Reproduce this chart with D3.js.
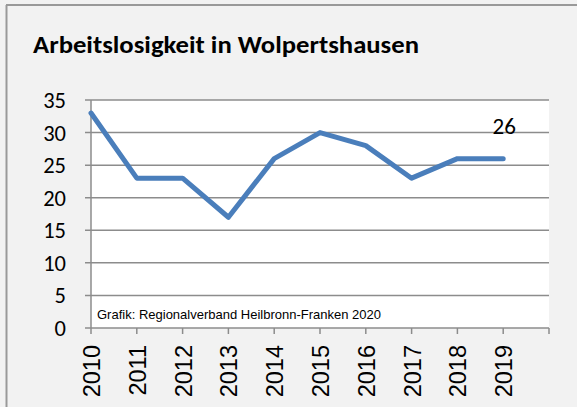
<!DOCTYPE html>
<html>
<head>
<meta charset="utf-8">
<script src="https://cdn.jsdelivr.net/npm/d3@7"></script>
<style>
  html, body { margin: 0; padding: 0; background: #f2f2f2; }
  svg { display: block; }
</style>
</head>
<body>
<svg id="chart" width="577" height="407"></svg>
<script>
// data
let years = ["2010", "2011", "2012", "2013", "2014", "2015", "2016", "2017", "2018", "2019"];
let values = [33, 23, 23, 17, 26, 30, 28, 23, 26, 26];
let yTicks = [0, 5, 10, 15, 20, 25, 30, 35];

let svg = d3.select("#chart");
let W = 577, H = 407;
let lineColor = "#4a7ebb";
let calibri = "Calibri, Carlito, Lato, 'Open Sans', sans-serif";
let arial = "Arial, 'Liberation Sans', sans-serif";

// background + frame (only top and left edges visible)
svg.append("rect").attr("width", W).attr("height", H).attr("fill", "#f2f2f2");
svg.append("line").attr("x1", 6.5).attr("x2", 6.5).attr("y1", 5).attr("y2", H)
    .attr("stroke", "#999").attr("stroke-width", 2);
svg.append("line").attr("x1", 6).attr("x2", W).attr("y1", 5).attr("y2", 5)
    .attr("stroke", "#999").attr("stroke-width", 2);

// title
svg.append("text")
    .attr("x", 33).attr("y", 53)
    .attr("font-family", calibri)
    .attr("font-weight", "bold")
    .attr("font-size", 25)
    .attr("textLength", 386)
    .attr("lengthAdjust", "spacingAndGlyphs")
    .attr("fill", "#000")
    .text("Arbeitslosigkeit in Wolpertshausen");

let plotLeft = 91, plotRight = 549, plotTop = 100, plotBottom = 328;

let x = d3.scaleLinear().domain([0, years.length]).range([plotLeft, plotRight]);
let y = d3.scaleLinear().domain([0, 35]).range([plotBottom, plotTop]);

// plot area
svg.append("rect")
    .attr("x", plotLeft).attr("y", plotTop)
    .attr("width", plotRight - plotLeft).attr("height", plotBottom - plotTop)
    .attr("fill", "#fff");

// gridlines
svg.append("g")
    .selectAll("line")
    .data(yTicks)
    .enter().append("line")
    .attr("x1", plotLeft - 6).attr("x2", plotRight)
    .attr("y1", function (d) { return y(d); })
    .attr("y2", function (d) { return y(d); })
    .attr("stroke", "#8c8c8c")
    .attr("stroke-width", 1.5);

// y axis line
svg.append("line")
    .attr("x1", plotLeft).attr("x2", plotLeft)
    .attr("y1", plotTop).attr("y2", plotBottom)
    .attr("stroke", "#8c8c8c").attr("stroke-width", 1.5);

// y labels
svg.append("g")
    .selectAll("text")
    .data(yTicks)
    .enter().append("text")
    .attr("x", 66)
    .attr("y", function (d) { return y(d) + 8; })
    .attr("text-anchor", "end")
    .attr("font-family", calibri)
    .attr("font-size", 22.5)
    .attr("fill", "#000")
    .text(function (d) { return d; });

// x ticks (one extra slot at the end)
svg.append("g")
    .selectAll("line")
    .data(d3.range(years.length + 1))
    .enter().append("line")
    .attr("x1", function (d) { return x(d); })
    .attr("x2", function (d) { return x(d); })
    .attr("y1", plotBottom).attr("y2", plotBottom + 6)
    .attr("stroke", "#8c8c8c").attr("stroke-width", 1.5);

// x labels, rotated
svg.append("g")
    .selectAll("text")
    .data(years)
    .enter().append("text")
    .attr("transform", function (d, i) {
        return "translate(" + (x(i) + 9) + "," + (plotBottom + 17) + ") rotate(-90)";
    })
    .attr("text-anchor", "end")
    .attr("font-family", arial)
    .attr("font-size", 23.5)
    .attr("fill", "#000")
    .text(function (d) { return d; });

// source note
svg.append("text")
    .attr("x", 97).attr("y", 319)
    .attr("font-family", arial)
    .attr("font-size", 13)
    .attr("fill", "#000")
    .text("Grafik: Regionalverband Heilbronn-Franken 2020");

// line
let line = d3.line()
    .x(function (d, i) { return x(i); })
    .y(function (d) { return y(d); });

svg.append("path")
    .datum(values)
    .attr("d", line)
    .attr("fill", "none")
    .attr("stroke", lineColor)
    .attr("stroke-width", 5)
    .attr("stroke-linejoin", "round")
    .attr("stroke-linecap", "round");

// last value label
let last = values.length - 1;
svg.append("text")
    .attr("x", x(last) + 1)
    .attr("y", y(values[last]) - 25)
    .attr("text-anchor", "middle")
    .attr("font-family", calibri)
    .attr("font-size", 23)
    .attr("fill", "#000")
    .text(values[last]);
</script>
</body>
</html>
